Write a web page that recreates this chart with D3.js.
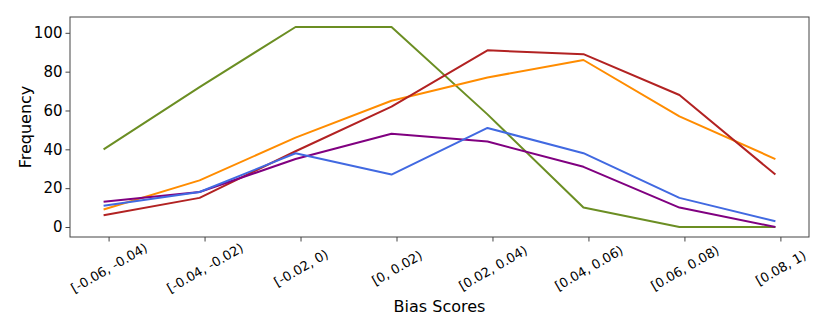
<!DOCTYPE html>
<html>
<head>
<meta charset="utf-8">
<script src="https://cdn.jsdelivr.net/npm/d3@7"></script>
<style>
  body { margin: 0; background: #fff; }
  svg { display: block; font-family: "DejaVu Sans", sans-serif; }
</style>
</head>
<body>
<div id="chart"></div>
<script>
// bins on the x axis
const categories = ["[-0.06, -0.04)", "[-0.04, -0.02)", "[-0.02, 0)", "[0, 0.02)",
                    "[0.02, 0.04)", "[0.04, 0.06)", "[0.06, 0.08)", "[0.08, 1)"];
const greenValues  = [40, 72, 103, 103, 58, 10, 0, 0];
const orangeValues = [9, 24, 46, 65, 77, 86, 57, 35];
const redValues    = [6, 15, 39, 62, 91, 89, 68, 27];
const blueValues   = [11, 18, 38, 27, 51, 38, 15, 3];
const purpleValues = [13, 18, 35, 48, 44, 31, 10, 0];
const yTicks = [0, 20, 40, 60, 80, 100];

const series = [
    { name: "green", color: "#6b8e23", values: greenValues },
    { name: "orange", color: "#ff8c00", values: orangeValues },
    { name: "red", color: "#b22222", values: redValues },
    { name: "purple", color: "#800080", values: purpleValues },
    { name: "blue", color: "#4169e1", values: blueValues }
];

const width = 830, height = 332;
const plotLeft = 70, plotRight = 809, plotTop = 17, plotBottom = 237;
const tickShift = 0.052; // ticks sit a bit right of the points

let svg = d3.select("#chart")
    .append("svg")
    .attr("width", width)
    .attr("height", height);

let n = categories.length;
let pad = (n - 1) * 0.05;
let x = d3.scaleLinear()
    .domain([-pad, n - 1 + pad])
    .range([plotLeft, plotRight]);

let yMax = d3.max(series, s => d3.max(s.values));
let yPad = yMax * 0.05;
let y = d3.scaleLinear()
    .domain([-yPad, yMax + yPad])
    .range([plotBottom, plotTop]);

let line = d3.line()
    .x((d, i) => x(i))
    .y(d => y(d));

svg.selectAll(".series")
    .data(series)
    .enter()
    .append("path")
    .attr("class", "series")
    .attr("d", d => line(d.values))
    .attr("fill", "none")
    .attr("stroke", d => d.color)
    .attr("stroke-width", 2)
    .attr("stroke-linejoin", "round");

// frame
svg.append("rect")
    .attr("x", plotLeft)
    .attr("y", plotTop)
    .attr("width", plotRight - plotLeft)
    .attr("height", plotBottom - plotTop)
    .attr("fill", "none")
    .attr("stroke", "#444")
    .attr("stroke-width", 1);

let yAxis = svg.append("g")
    .attr("transform", "translate(" + plotLeft + ",0)")
    .call(d3.axisLeft(y).tickValues(yTicks).tickSize(4.5).tickPadding(3).tickSizeOuter(0));
yAxis.select(".domain").remove();
yAxis.selectAll("line").attr("stroke", "#444");
yAxis.selectAll("text")
    .attr("font-size", 15)
    .attr("font-family", "DejaVu Sans")
    .attr("fill", "#000");

let xAxis = svg.append("g")
    .attr("transform", "translate(0," + plotBottom + ")")
    .call(d3.axisBottom(x)
        .tickValues(d3.range(n).map(i => i + tickShift))
        .tickFormat((d, i) => categories[i])
        .tickSize(4.5)
        .tickSizeOuter(0));
xAxis.select(".domain").remove();
xAxis.selectAll("line").attr("stroke", "#444");
xAxis.selectAll("text")
    .attr("font-size", 13)
    .attr("font-family", "DejaVu Sans")
    .attr("fill", "#000")
    .attr("y", 0)
    .attr("dy", "0.35em")
    .attr("text-anchor", "middle")
    .attr("transform", "translate(0,31) rotate(-30)");

svg.append("text")
    .attr("x", (plotLeft + plotRight) / 2)
    .attr("y", 312)
    .attr("text-anchor", "middle")
    .attr("font-size", 16)
    .text("Bias Scores");

svg.append("text")
    .attr("transform", "translate(31," + (plotTop + plotBottom) / 2 + ") rotate(-90)")
    .attr("text-anchor", "middle")
    .attr("font-size", 16)
    .text("Frequency");
</script>
</body>
</html>
